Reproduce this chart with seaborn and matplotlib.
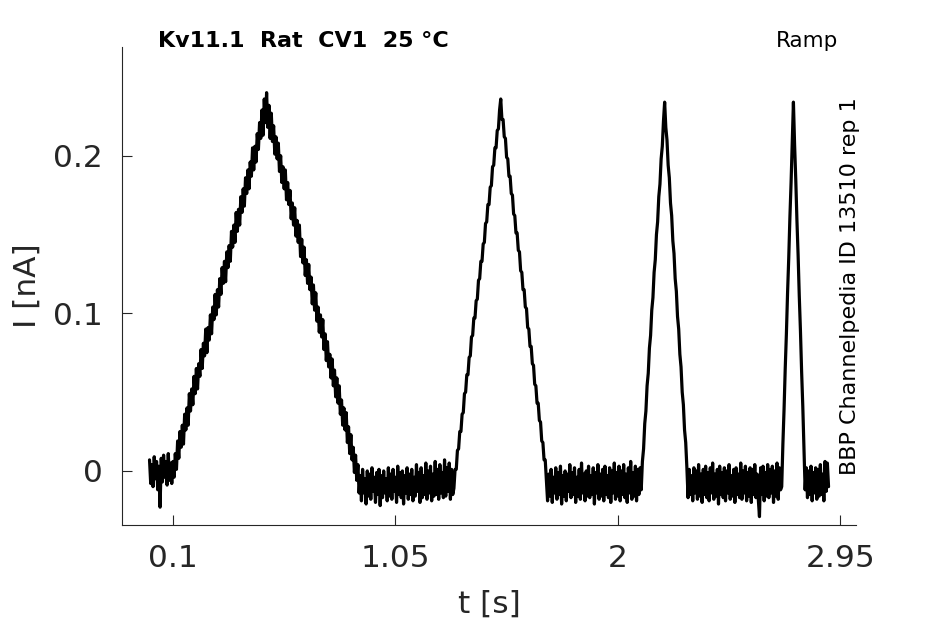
import numpy as np
import pandas as pd
import matplotlib
matplotlib.use("Agg")
import matplotlib.pyplot as plt
import seaborn as sns

# ----------------------------
# datos
# ----------------------------
sample_dt = 0.005  # s entre muestras

# corriente [nA], una fila = 0.1 s
current_na = [
    0.007, -0.008, 0.004, -0.010, 0.009, -0.005, 0.006, -0.012, 0.003, -0.023,
    0.008, -0.007, 0.010, -0.004, 0.006, -0.009, 0.011, -0.006, 0.005, -0.008,
    0.006, -0.004, 0.011, 0.001, 0.019, 0.008, 0.025, 0.015, 0.029, 0.017,
    0.036, 0.026, 0.040, 0.029, 0.049, 0.038, 0.052, 0.042, 0.060, 0.049,
    0.065, 0.052, 0.068, 0.060, 0.077, 0.065, 0.081, 0.073, 0.090, 0.075,
    0.091, 0.083, 0.099, 0.087, 0.104, 0.096, 0.112, 0.099, 0.115, 0.104,
    0.122, 0.112, 0.129, 0.119, 0.133, 0.120, 0.139, 0.129, 0.143, 0.133,
    0.152, 0.142, 0.156, 0.145, 0.164, 0.152, 0.166, 0.156, 0.174, 0.164,
    0.179, 0.168, 0.186, 0.176, 0.191, 0.179, 0.196, 0.187, 0.205, 0.191,
    0.206, 0.196, 0.214, 0.204, 0.221, 0.211, 0.229, 0.213, 0.236, 0.221,
    0.240, 0.218, 0.232, 0.211, 0.227, 0.209, 0.219, 0.201, 0.212, 0.198,
    0.208, 0.190, 0.200, 0.183, 0.193, 0.179, 0.191, 0.172, 0.183, 0.169,
    0.178, 0.160, 0.170, 0.156, 0.167, 0.149, 0.159, 0.145, 0.156, 0.136,
    0.147, 0.132, 0.142, 0.124, 0.134, 0.119, 0.131, 0.115, 0.123, 0.106,
    0.118, 0.102, 0.113, 0.095, 0.104, 0.088, 0.099, 0.085, 0.096, 0.077,
    0.087, 0.070, 0.082, 0.066, 0.074, 0.059, 0.071, 0.054, 0.064, 0.047,
    0.059, 0.043, 0.054, 0.036, 0.045, 0.029, 0.040, 0.026, 0.037, 0.018,
    0.028, 0.011, 0.023, 0.007, 0.015, -0.001, 0.010, -0.006, 0.004, -0.014,
    -0.003, -0.019, 0.001, -0.014, -0.005, -0.021, 0.000, -0.016, -0.002, -0.018,
    0.002, -0.013, -0.004, -0.020, -0.001, -0.015, 0.001, -0.022, -0.003, -0.017,
    0.000, -0.014, -0.005, -0.019, 0.002, -0.016, -0.002, -0.018, 0.001, -0.013,
    -0.004, -0.020, 0.003, -0.015, -0.001, -0.017, 0.000, -0.021, -0.003, -0.014,
    0.002, -0.018, -0.002, -0.015, 0.001, -0.019, -0.004, -0.016, 0.004, -0.013,
    -0.001, -0.020, 0.002, -0.017, -0.003, -0.015, 0.005, -0.018, 0.000, -0.014,
    0.003, -0.019, -0.002, -0.016, 0.006, -0.015, 0.001, -0.018, 0.004, -0.014,
    -0.001, -0.017, 0.007, -0.016, 0.002, -0.013, 0.005, -0.018, 0.001, -0.015,
    -0.011, 0.001, 0.001, 0.013, 0.014, 0.025, 0.025, 0.036, 0.037, 0.049,
    0.050, 0.061, 0.061, 0.072, 0.073, 0.085, 0.086, 0.097, 0.097, 0.108,
    0.109, 0.121, 0.122, 0.133, 0.133, 0.144, 0.145, 0.157, 0.158, 0.169,
    0.169, 0.180, 0.181, 0.193, 0.194, 0.205, 0.205, 0.216, 0.217, 0.229,
    0.236, 0.223, 0.223, 0.212, 0.211, 0.199, 0.198, 0.187, 0.187, 0.176,
    0.175, 0.163, 0.162, 0.151, 0.151, 0.140, 0.139, 0.127, 0.126, 0.115,
    0.115, 0.104, 0.103, 0.091, 0.090, 0.079, 0.079, 0.068, 0.067, 0.055,
    0.054, 0.043, 0.043, 0.032, 0.031, 0.019, 0.018, 0.007, 0.007, -0.006,
    -0.019, -0.002, -0.016, 0.001, -0.020, -0.004, -0.014, 0.002, -0.018, -0.001,
    -0.015, 0.003, -0.021, -0.003, -0.016, 0.000, -0.019, -0.002, -0.013, 0.004,
    -0.017, -0.001, -0.015, 0.002, -0.020, -0.004, -0.016, 0.001, -0.018, 0.005,
    -0.014, -0.002, -0.019, 0.000, -0.016, 0.003, -0.017, -0.003, -0.015, 0.002,
    -0.021, -0.001, -0.014, 0.004, -0.018, -0.002, -0.016, 0.001, -0.019, 0.003,
    -0.015, -0.003, -0.017, 0.002, -0.020, 0.000, -0.014, 0.005, -0.018, -0.001,
    -0.016, 0.003, -0.019, 0.000, -0.015, 0.004, -0.017, -0.002, -0.020, 0.002,
    -0.014, 0.006, -0.018, -0.001, -0.016, 0.003, -0.019, 0.001, -0.015, 0.002,
    -0.012, 0.006, 0.014, 0.030, 0.038, 0.054, 0.062, 0.078, 0.086, 0.102,
    0.110, 0.126, 0.134, 0.150, 0.158, 0.174, 0.182, 0.198, 0.206, 0.222,
    0.234, 0.218, 0.210, 0.194, 0.186, 0.170, 0.162, 0.146, 0.138, 0.122,
    0.114, 0.098, 0.090, 0.074, 0.066, 0.050, 0.042, 0.026, 0.018, 0.002,
    -0.017, 0.001, -0.015, -0.003, -0.019, 0.002, -0.014, 0.000, -0.018, 0.004,
    -0.016, -0.002, -0.020, 0.001, -0.015, 0.003, -0.017, -0.001, -0.019, 0.002,
    -0.014, 0.005, -0.018, -0.002, -0.016, 0.001, -0.021, 0.003, -0.015, -0.001,
    -0.017, 0.002, -0.019, 0.000, -0.014, 0.004, -0.018, -0.003, -0.016, 0.001,
    -0.020, 0.002, -0.015, -0.002, -0.017, 0.005, -0.018, 0.000, -0.014, 0.003,
    -0.019, -0.001, -0.016, 0.002, -0.020, 0.001, -0.015, 0.004, -0.017, -0.002,
    -0.018, -0.029, 0.002, -0.015, 0.003, -0.019, -0.001, -0.016, 0.004, -0.017,
    0.001, -0.014, 0.003, -0.020, 0.000, -0.016, 0.005, -0.018, 0.002, -0.012,
    -0.010, 0.017, 0.039, 0.065, 0.087, 0.113, 0.135, 0.161, 0.183, 0.209,
    0.234, 0.207, 0.185, 0.159, 0.137, 0.111, 0.089, 0.063, 0.041, 0.015,
    -0.012, 0.002, -0.017, 0.000, -0.015, 0.003, -0.019, -0.001, -0.014, 0.002,
    -0.018, 0.001, -0.016, 0.004, -0.015, -0.002, -0.019, 0.006, -0.013, 0.005,
    -0.010,
]

x_ticks = [0.1, 1.05, 2, 2.95]
x_tick_labels = ["0.1", "1.05", "2", "2.95"]
y_ticks = [0, 0.1, 0.2]
y_tick_labels = ["0", "0.1", "0.2"]

titulo = "Kv11.1  Rat  CV1  25 °C"
protocolo = "Ramp"
fuente = "BBP Channelpedia ID 13510 rep 1"

df = pd.DataFrame({"t": np.arange(len(current_na)) * sample_dt, "I": current_na})

# ----------------------------
# grafico
# ----------------------------
sns.set_style("ticks")
plt.rcParams["font.family"] = ["DejaVu Sans"]
gris = "#262626"

fig = plt.figure(figsize=(9.45, 6.24), dpi=100)
ax = fig.add_axes([0.129, 0.1587, 0.777, 0.766])

sns.lineplot(data=df, x="t", y="I", estimator=None, sort=False,
             color="black", linewidth=2.3, ax=ax)

ax.set_xlim(-0.118, 3.018)
ax.set_ylim(-0.0343, 0.269)
ax.set_xticks(x_ticks)
ax.set_xticklabels(x_tick_labels)
ax.set_yticks(y_ticks)
ax.set_yticklabels(y_tick_labels)
ax.tick_params(direction="in", length=7, width=0.8, color=gris,
               labelcolor=gris, labelsize=22.5, pad=14)
for lado in ["top", "right"]:
    ax.spines[lado].set_visible(False)
for lado in ["left", "bottom"]:
    ax.spines[lado].set_color(gris)
    ax.spines[lado].set_linewidth(0.8)

ax.set_xlabel("t [s]", fontsize=22.5, color=gris, labelpad=12)
ax.set_ylabel("I [nA]", fontsize=22.5, color=gris, labelpad=8)

fig.text(158 / 945, 1 - 47 / 624, titulo, fontsize=16, fontweight="bold",
         ha="left", va="baseline", color="black")
fig.text(838 / 945, 1 - 47 / 624, protocolo, fontsize=15.4,
         ha="right", va="baseline", color="black")
ax.text(0.992, 0.5, fuente, transform=ax.transAxes, rotation=90,
        fontsize=16, ha="center", va="center", color="black")

fig.savefig("out.png", dpi=100)
plt.close(fig)
